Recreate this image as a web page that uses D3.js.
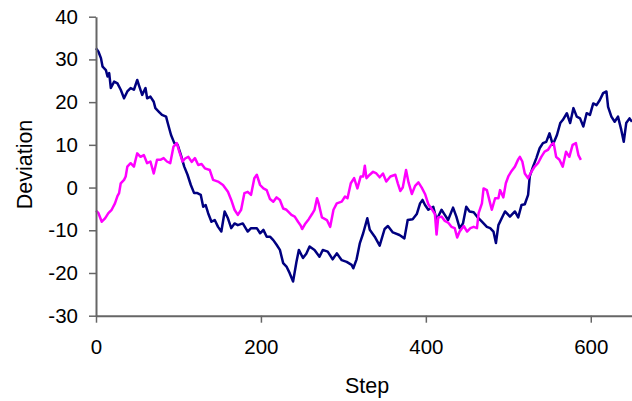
<!DOCTYPE html>
<html>
<head>
<meta charset="utf-8">
<script src="https://cdn.jsdelivr.net/npm/d3@7"></script>
<style>
  body { margin: 0; background: #fff; }
  svg text { font-family: Arial, "Liberation Sans", sans-serif; fill: #000; }
</style>
</head>
<body>
<svg id="chart" width="632" height="401"></svg>
<script>
// [step, deviation]
const navyWalk = [
  [0, 32.6], [3, 31.8], [6, 30.3], [8, 28.3], [12, 27.5], [14, 26], [16, 26.8], [18, 23.3],
  [22, 24.8], [26, 24.4], [30, 22.9], [34, 20.9], [38, 22.5], [42, 23.3], [46, 22.9], [50, 25.2],
  [52, 24], [56, 21.7], [60, 23.3], [62, 20.9], [66, 21.3], [70, 20.1], [72, 18.6], [76, 17.8],
  [80, 17], [85, 16.6], [87, 15.1], [91, 12.3], [95, 10.4], [99, 10], [103, 7.6], [107, 4.9],
  [111, 3], [115, 0.6], [119, -1.3], [123, -1.3], [127, -1.7], [130, -4.5], [133, -4.1], [136, -6],
  [140, -8], [144, -7.6], [148, -9.2], [152, -10.3], [156, -5.6], [160, -7.2], [164, -9.5], [168, -8.4],
  [172, -8.8], [178, -8.4], [184, -10.3], [188, -9.5], [195, -9.5], [199, -10.7], [203, -9.9], [207, -11.5],
  [211, -11.5], [215, -12.3], [219, -13.4], [223, -14.6], [227, -17.7], [231, -18.5], [235, -20.1], [239, -22],
  [243, -17.5], [246, -14.6], [251, -16.5], [255, -15.5], [259, -13.8], [265, -14.6], [271, -16.2], [275, -14.6],
  [281, -15], [287, -16.8], [292, -15.4], [298, -17], [304, -17.4], [310, -18.1], [312, -18.9], [316, -16.8],
  [320, -13], [324, -10.7], [329, -7.2], [332, -9.9], [338, -11.5], [344, -13.6], [350, -9.7], [354, -9],
  [360, -10.5], [368, -11.1], [374, -11.9], [378, -7.6], [384, -7.4], [389, -6.2], [393, -3.7], [396, -2.9],
  [399, -4.1], [403, -5.2], [409, -4.5], [413, -7.6], [419, -5.2], [423, -6.4], [427, -7.6], [433, -4.7],
  [437, -6.8], [441, -9.5], [445, -8.4], [449, -4.5], [453, -5.6], [458, -5.8], [462, -6.8], [468, -8],
  [474, -9.2], [478, -9.5], [482, -10.3], [485, -13], [488, -8.8], [492, -7.2], [496, -5.6], [502, -6.8],
  [508, -5.6], [512, -7], [516, -4.1], [520, -3.9], [524, -1.7], [526, 2.6], [530, 4.9], [534, 6.9],
  [538, 9.2], [542, 10.4], [546, 10.7], [550, 12.7], [554, 10], [559, 12.3], [563, 15.1], [566, 15.8],
  [571, 17.4], [575, 15.1], [579, 18.6], [583, 16.6], [587, 16.2], [591, 14.3], [595, 17.4], [599, 17],
  [603, 19.7], [607, 19.3], [611, 20.5], [615, 22.1], [619, 22.5], [621, 18.9], [625, 16.6], [629, 15.4],
  [633, 16.6], [637, 13.5], [640, 10.7], [643, 15.1], [647, 16.2], [650, 15.4]
];

const pinkWalk = [
  [0, -5.4], [3, -6], [7, -8], [11, -7.2], [15, -6], [19, -5.2], [23, -3.7], [26, -2],
  [28, -1.3], [30, 1], [34, 1.8], [36, 2.6], [38, 4.9], [42, 5.7], [46, 4.9], [48, 6.5],
  [50, 8], [54, 7.2], [58, 7.6], [62, 5.7], [66, 6.1], [70, 3.3], [74, 6.5], [78, 6.5],
  [82, 6.9], [86, 6.1], [90, 5.7], [94, 9.6], [98, 10.4], [101, 8.4], [105, 6.1], [108, 6.8],
  [112, 7.2], [116, 6], [120, 6.9], [124, 5.3], [128, 5.5], [132, 4.5], [138, 4.1], [142, 1.8],
  [148, 1.4], [154, 0.6], [160, -1], [164, -2.9], [168, -5.2], [172, -6.4], [176, -5.2], [180, -1.3],
  [184, -1], [188, -1.7], [192, 2.2], [195, 3], [199, 0.6], [203, -0.2], [207, -0.6], [211, -2.7],
  [215, -3.3], [219, -2.3], [223, -2.9], [227, -4.9], [231, -5.2], [237, -6.4], [241, -6.8], [245, -8],
  [248, -8.8], [250, -9.7], [254, -8.4], [258, -7.4], [262, -6.2], [265, -5.2], [268, -2.5], [270, -3.7],
  [274, -7], [280, -7.6], [284, -9.2], [288, -5.2], [292, -3.7], [298, -3.3], [302, -2.1], [305, -2.5],
  [309, 1], [313, 2.2], [317, -0.2], [321, 2.6], [324, 2.6], [326, 5.1], [328, 2.2], [332, 3],
  [336, 3.7], [340, 3.3], [344, 2.4], [348, 3.3], [352, 1.4], [357, 2.6], [363, 3], [366, 1],
  [369, -0.8], [372, 0], [376, 4.1], [379, 1.2], [383, -1.5], [387, 0.4], [391, 1.2], [395, 0],
  [399, -1.5], [403, -3.9], [407, -5], [411, -6.2], [413, -11], [415, -7], [419, -6.8], [423, -7.8],
  [427, -8.2], [431, -9.2], [435, -9.5], [438, -11.7], [441, -10.3], [446, -9], [450, -10.3], [454, -9.5],
  [458, -9.2], [462, -9.5], [464, -6], [468, -3.7], [470, -0.2], [474, -0.6], [478, -3.7], [480, -5.2],
  [484, -2.5], [488, -2.5], [490, -0.6], [494, -2.3], [497, 1], [500, 2.6], [504, 3.9], [508, 4.9],
  [512, 6.6], [514, 7.2], [517, 6.1], [520, 3.3], [524, 2.2], [528, 3.7], [532, 4.9], [536, 5.7],
  [540, 7.2], [544, 8.4], [548, 8.8], [552, 10], [555, 10.4], [558, 7.2], [562, 6.5], [566, 4.9],
  [570, 8.4], [574, 7.2], [578, 10], [582, 10.4], [585, 7.6], [588, 6.5]
];

const xTicks = [0, 200, 400, 600];
const yTicks = [-30, -20, -10, 0, 10, 20, 30, 40];

const plotLeft = 96;
const plotRight = 632;
const plotTop = 16.7;
const plotBottom = 315.7;
const axisColor = '#666';
const labelSize = 20.5;

const svg = d3.select('#chart');

const xscale = d3.scaleLinear()
  .domain([0, 650])
  .range([plotLeft, plotRight]);

const yscale = d3.scaleLinear()
  .domain([-30, 40])
  .range([plotBottom, plotTop]);

// lines first, axes drawn over them
const line = d3.line()
  .x((d) => xscale(d[0]))
  .y((d) => yscale(d[1]));

svg.append('path')
  .datum(navyWalk)
  .attr('d', line)
  .attr('fill', 'none')
  .attr('stroke', '#000080')
  .attr('stroke-width', 2.5)
  .attr('stroke-linejoin', 'round');

svg.append('path')
  .datum(pinkWalk)
  .attr('d', line)
  .attr('fill', 'none')
  .attr('stroke', '#ff00ff')
  .attr('stroke-width', 2.5)
  .attr('stroke-linejoin', 'round');

// plain hyphen for negatives, like the original
const plainFormat = (d) => `${d}`;

const bottomAxis = d3.axisBottom(xscale)
  .tickValues(xTicks)
  .tickFormat(plainFormat)
  .tickSize(7)
  .tickPadding(17)
  .tickSizeOuter(0);

const xAxis = svg.append('g')
  .attr('transform', `translate(0, ${plotBottom})`)
  .call(bottomAxis);

const leftAxis = d3.axisLeft(yscale)
  .tickValues(yTicks)
  .tickFormat(plainFormat)
  .tickSize(7)
  .tickPadding(11)
  .tickSizeOuter(0);

const yAxis = svg.append('g')
  .attr('transform', `translate(${plotLeft}, 0)`)
  .call(leftAxis);

[xAxis, yAxis].forEach((g) => {
  g.select('.domain').attr('stroke', axisColor).attr('stroke-width', 2);
  g.selectAll('.tick line').attr('stroke', axisColor).attr('stroke-width', 1.5);
  g.selectAll('.tick text')
    .attr('font-size', labelSize)
    .attr('font-family', 'Arial, "Liberation Sans", sans-serif')
    .attr('fill', '#000');
});

svg.append('text')
  .text('Step')
  .attr('x', 367)
  .attr('y', 393)
  .attr('text-anchor', 'middle')
  .attr('font-size', 21.5);

svg.append('text')
  .text('Deviation')
  .attr('transform', `translate(32, 164.5) rotate(-90)`)
  .attr('text-anchor', 'middle')
  .attr('font-size', 21.5);
</script>
</body>
</html>
